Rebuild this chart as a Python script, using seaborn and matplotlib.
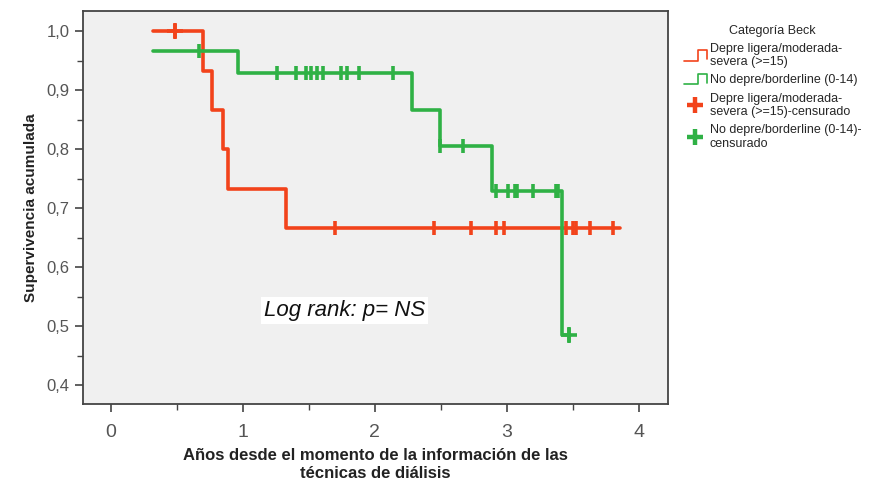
import numpy as np
import pandas as pd
import matplotlib
matplotlib.use('Agg')
import matplotlib.pyplot as plt
from matplotlib.lines import Line2D
from matplotlib.legend_handler import HandlerBase
from matplotlib.ticker import MultipleLocator, FuncFormatter
import seaborn as sns

# Kaplan-Meier steps (time in years, cumulative survival)
red_times = [0.32, 0.70, 0.77, 0.85, 0.89, 1.33, 3.86]
red_surv = [1.0, 0.933, 0.867, 0.800, 0.733, 0.667, 0.667]
red_cens = [0.49, 1.70, 2.45, 2.73, 2.92, 2.98, 3.45, 3.50, 3.52, 3.63, 3.80]

green_times = [0.32, 0.96, 2.28, 2.49, 2.89, 3.42, 3.48]
green_surv = [0.967, 0.929, 0.867, 0.805, 0.730, 0.486, 0.486]
green_cens = [0.67, 1.26, 1.40, 1.48, 1.52, 1.56, 1.61, 1.74, 1.79, 1.88, 2.14,
              2.49, 2.67, 2.92, 3.01, 3.06, 3.08, 3.20, 3.37, 3.39, 3.47]

groups = ['Depre ligera/moderada-\nsevera (>=15)', 'No depre/borderline (0-14)']
cens_labels = ['Depre ligera/moderada-\nsevera (>=15)-censurado', 'No depre/borderline (0-14)-\ncensurado']
colors = ['#f2431b', '#2fb145']


def surv_at(times, surv, t):
    i = np.searchsorted(times, t, side='right') - 1
    return surv[max(i, 0)]


steps = pd.concat([
    pd.DataFrame({'t': red_times, 's': red_surv, 'g': groups[0]}),
    pd.DataFrame({'t': green_times, 's': green_surv, 'g': groups[1]}),
])
cens = pd.concat([
    pd.DataFrame({'t': red_cens, 's': [surv_at(red_times, red_surv, t) for t in red_cens], 'g': groups[0]}),
    pd.DataFrame({'t': green_cens, 's': [surv_at(green_times, green_surv, t) for t in green_cens], 'g': groups[1]}),
])

sns.set_theme(style='ticks')
plt.rcParams['font.family'] = ['Liberation Sans', 'DejaVu Sans']

fig = plt.figure(figsize=(8.93, 4.87), dpi=100)
ax = fig.add_axes([0.093, 0.170, 0.655, 0.807])
ax.set_facecolor('#f0f0f0')

pal = dict(zip(groups, colors))
sns.lineplot(data=steps, x='t', y='s', hue='g', palette=pal, drawstyle='steps-post',
             linewidth=2.6, legend=False, ax=ax, estimator=None, sort=False)
for g in groups:
    d = cens[cens.g == g]
    ax.plot(d.t, d.s, linestyle='none', marker='|', markersize=10, markeredgewidth=2.6,
            color=pal[g])
# the outer censor marks drawn as crosses
ax.plot([0.49], [1.0], linestyle='none', marker='+', markersize=11, markeredgewidth=2.6, color=colors[0])
ax.plot([3.47], [0.486], linestyle='none', marker='+', markersize=11, markeredgewidth=2.6, color=colors[1])

ax.set_xlim(-0.21, 4.22)
ax.set_ylim(0.368, 1.034)
ax.xaxis.set_major_locator(MultipleLocator(1))
ax.xaxis.set_minor_locator(MultipleLocator(0.5))
ax.yaxis.set_major_locator(MultipleLocator(0.1))
ax.yaxis.set_minor_locator(MultipleLocator(0.05))
ax.yaxis.set_major_formatter(FuncFormatter(lambda v, p: '{:.1f}'.format(v).replace('.', ',')))
ax.tick_params(axis='x', which='major', labelsize=14, length=6, width=1.2, pad=8,
               colors='#444444', labelcolor='#555555')
ax.tick_params(axis='y', which='major', labelsize=12, length=6, width=1.2, colors='#444444', labelcolor='#555555')
ax.tick_params(which='minor', length=4, width=1, colors='#444444')
for sp in ax.spines.values():
    sp.set_color('#444444')
    sp.set_linewidth(1.3)

ax.set_xlabel('Años desde el momento de la información de las\ntécnicas de diálisis',
              fontsize=12, fontweight='bold', color='#222222', linespacing=1.25, labelpad=5)
ax.set_ylabel('Supervivencia acumulada', fontsize=11, fontweight='bold', color='#222222', labelpad=6)

ax.text(1.77, 0.527, 'Log rank: p= NS', fontsize=16, style='italic', ha='center', va='center',
        color='#111111', bbox=dict(facecolor='white', edgecolor='none', pad=2))


class StepHandler(HandlerBase):
    def create_artists(self, legend, orig, xd, yd, w, h, fontsize, trans):
        c = orig.get_color()
        xs = [xd, xd + w * 0.62, xd + w * 0.62, xd + w, xd + w]
        ys = [yd - h * 0.1, yd - h * 0.1, yd + h * 1.1, yd + h * 1.1, yd + h * 0.1]
        ln = Line2D(xs, ys, color=c, linewidth=1.2, transform=trans)
        return [ln]


handles = [Line2D([], [], color=colors[0]), Line2D([], [], color=colors[1]),
           Line2D([], [], color=colors[0], marker='+', linestyle='none', markersize=12, markeredgewidth=3.2),
           Line2D([], [], color=colors[1], marker='+', linestyle='none', markersize=12, markeredgewidth=3.2)]
labels = [groups[0], groups[1], cens_labels[0], cens_labels[1]]
leg = fig.legend(handles, labels, loc='upper left', bbox_to_anchor=(0.757, 0.965), frameon=False,
                 title='Categoría Beck', fontsize=9, title_fontsize=9, handlelength=1.9,
                 handletextpad=0.2, labelspacing=0.5, borderaxespad=0.2,
                 handler_map={handles[0]: StepHandler(), handles[1]: StepHandler()})
for t in leg.get_texts():
    t.set_linespacing(1.15)

plt.savefig('out.png', dpi=100)
